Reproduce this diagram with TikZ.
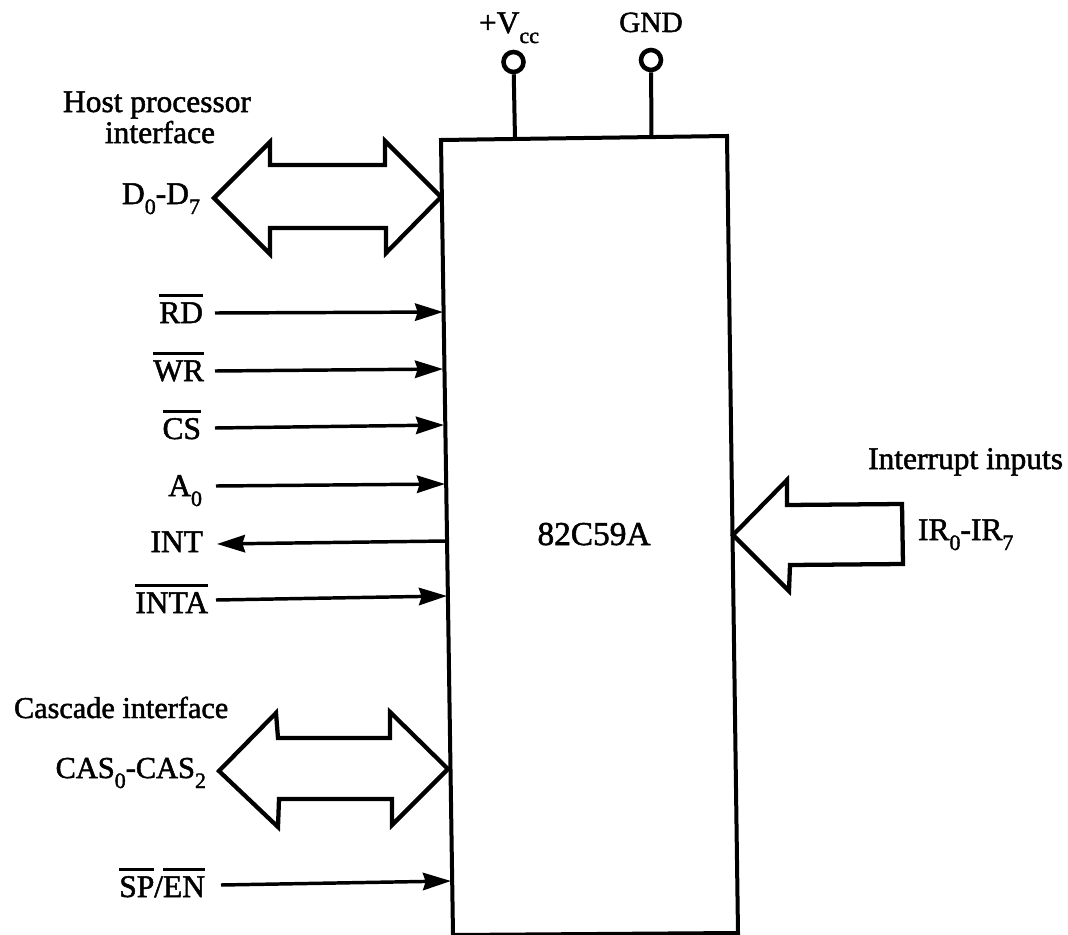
\documentclass[tikz,border=0pt]{standalone}
\usepackage{fontspec}
\setmainfont[FakeBold=1.6]{Liberation Serif}
\usetikzlibrary{arrows.meta}
\newcommand\ovl[1]{\setbox0\hbox{#1}\rlap{\rule[19.5pt]{\wd0}{2pt}}\box0}
\newcommand\lowsub[1]{\raisebox{-7.5pt}{\fontsize{16.5}{17}\selectfont #1}}
\tikzset{
  lab/.style={inner sep=0pt,outer sep=0pt,font=\fontsize{23.6}{26}\selectfont},
  chipline/.style={line width=3pt,line join=miter},
  fatarrow/.style={line width=3.2pt,line join=miter,fill=white},
  sigline/.style={line width=2.6pt,-{Stealth[length=21pt,width=13pt,inset=2pt]}},
  pinline/.style={line width=3pt},
  pincircle/.style={circle,draw,line width=3.4pt,minimum size=15pt,inner sep=0pt,fill=white}
}
\begin{document}
\begin{tikzpicture}[x=.75pt,y=-.75pt]
\useasboundingbox (0,0) rectangle (1068,935);
% chip
\coordinate (tl) at (441,140);
\coordinate (tr) at (727,136);
\coordinate (br) at (738,933);
\coordinate (bl) at (453,935);
\draw[chipline] (tl) -- (tr) -- (br) -- (bl) -- cycle;
\node[lab,anchor=base,font=\fontsize{25}{26}\selectfont] (chip) at (594,545) {82C59A};
% power pins
\node[pincircle] (vcc) at (513.5,62) {};
\node[pincircle] (gnd) at (651,60) {};
\coordinate (vccend) at (515,139);
\coordinate (gndend) at (651.5,137);
\draw[pinline] (vcc) -- (vccend);
\draw[pinline] (gnd) -- (gndend);
\node[lab,anchor=base west] (vcclab) at (479,33) {+V\lowsub{cc}};
\node[lab,anchor=base,font=\fontsize{22}{26}\selectfont] (gndlab) at (651,32) {GND};
% host bus
\draw[fatarrow] (214,198) -- (270,142) -- (270,165) -- (385,165) -- (385,141) -- (441,197)
  -- (386,253) -- (386,228) -- (270,228) -- (270,254) -- cycle;
\node[lab,anchor=base] (host) at (157,112) {Host processor};
\node[lab,anchor=base] (hosti) at (160,143) {interface};
\node[lab,anchor=base east] (dbus) at (200,204) {D\lowsub{0}-D\lowsub{7}};
% signals
\node[lab,anchor=base east] (rd) at (203,323) {\ovl{RD}};
\coordinate (rda) at (215,313); \coordinate (rdb) at (443,312);
\draw[sigline] (rda) -- (rdb);
\node[lab,anchor=base east] (wr) at (204,381) {\ovl{WR}};
\coordinate (wra) at (215,371); \coordinate (wrb) at (443,369);
\draw[sigline] (wra) -- (wrb);
\node[lab,anchor=base east] (cs) at (201,439) {\ovl{CS}};
\coordinate (csa) at (215,428); \coordinate (csb) at (444,425);
\draw[sigline] (csa) -- (csb);
\node[lab,anchor=base east] (azero) at (202,496) {A\lowsub{0}};
\coordinate (aa) at (216,486); \coordinate (ab) at (445,484);
\draw[sigline] (aa) -- (ab);
\node[lab,anchor=base east] (int) at (203,552) {INT};
\coordinate (inta) at (446,541); \coordinate (intb) at (217,544);
\draw[sigline] (inta) -- (intb);
\node[lab,anchor=base east] (inta0) at (208,613) {\ovl{INTA}};
\coordinate (ia) at (216,600); \coordinate (ib) at (447,596);
\draw[sigline] (ia) -- (ib);
% cascade
\draw[fatarrow] (219,771) -- (276,713) -- (278,738) -- (390,738) -- (390,712) -- (448,769)
  -- (392,825) -- (392,799) -- (279,799) -- (278,827) -- cycle;
\node[lab,anchor=base west,font=\fontsize{22.7}{26}\selectfont] (casc) at (14,718) {Cascade interface};
\node[lab,anchor=base east,font=\fontsize{22.8}{26}\selectfont] (cas) at (206,778) {CAS\lowsub{0}-CAS\lowsub{2}};
\node[lab,anchor=base east] (sp) at (205,897) {\ovl{SP}/\ovl{EN}};
\coordinate (spa) at (221,885); \coordinate (spb) at (451,881);
\draw[sigline] (spa) -- (spb);
% interrupts
\draw[fatarrow] (733,535) -- (787,480) -- (787,505) -- (902,504) -- (903,564) -- (790,565) -- (789,591) -- cycle;
\node[lab,anchor=base east] (irt) at (1063,469) {Interrupt inputs};
\node[lab,anchor=base west] (ir) at (918,540) {IR\lowsub{0}-IR\lowsub{7}};
\end{tikzpicture}
\end{document}
